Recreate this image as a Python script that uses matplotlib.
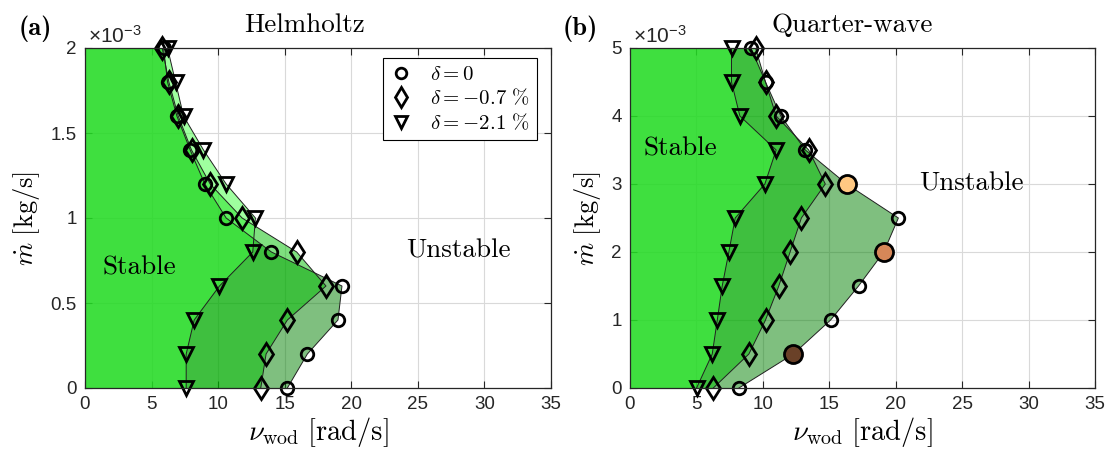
import numpy as np
import matplotlib
matplotlib.use("Agg")
import matplotlib.pyplot as plt

plt.rcParams['mathtext.fontset'] = 'cm'
plt.rcParams['font.family'] = ['Liberation Sans', 'DejaVu Sans']

# ---------------- data ----------------
# Panel (a) Helmholtz: mass flow (x1e-3 kg/s) and stability boundary nu_wod (rad/s)
mdot_a = [0.0, 0.2, 0.4, 0.6, 0.8, 1.0, 1.2, 1.4, 1.6, 1.8, 2.0]
nu_a_d0 = [15.2, 16.7, 19.0, 19.3, 14.0, 10.6, 9.0, 7.9, 6.9, 6.2, 5.9]
nu_a_d07 = [13.2, 13.6, 15.2, 18.1, 15.9, 11.8, 9.4, 8.0, 7.0, 6.3, 5.8]
nu_a_d21 = [7.6, 7.6, 8.2, 10.1, 12.6, 12.8, 10.6, 8.9, 7.4, 6.8, 6.2]

# Panel (b) Quarter-wave
mdot_b = [0.0, 0.5, 1.0, 1.5, 2.0, 2.5, 3.0, 3.5, 4.0, 4.5, 5.0]
nu_b_d0 = [8.2, 12.3, 15.1, 17.2, 19.1, 20.2, 16.3, 13.2, 11.35, 10.2, 9.1]
nu_b_d07 = [6.27, 8.95, 10.2, 11.2, 12.05, 12.9, 14.7, 13.45, 11.0, 10.2, 9.45]
nu_b_d21 = [5.01, 6.19, 6.57, 6.94, 7.44, 7.92, 10.15, 11.0, 8.27, 7.64, 7.64]

# highlighted operating points in panel (b) (indices into the delta=0 series)
highlight_idx = [6, 4, 1]
highlight_colors = ['#FFC882', '#D68758', '#6A4128']

legend_labels = [r'$\delta=0$', r'$\delta=-0.7\ \%$', r'$\delta=-2.1\ \%$']
markers = ['o', 'd', 'v']
msizes = [9, 11.5, 10]
fill_colors = [(0/255, 128/255, 0/255, 0.5),
               (0/255, 192/255, 0/255, 0.5),
               (64/255, 255/255, 64/255, 0.5)]

W, H = 1109, 458
fig = plt.figure(figsize=(W / 100, H / 100), dpi=100)

def make_axes(left_px, right_px):
    top_px, bot_px = 48, 388
    return fig.add_axes([left_px / W, (H - bot_px) / H,
                         (right_px - left_px) / W, (bot_px - top_px) / H])

ax_a = make_axes(85, 551)
ax_b = make_axes(630, 1095)

def draw_panel(ax, mdot, series, ymax, yticks, yticklabels):
    for (nu, c) in zip(series, fill_colors):
        px = np.r_[0.0, nu, 0.0]
        py = np.r_[mdot[0], mdot, mdot[-1]]
        ax.fill(px, py, facecolor=c, edgecolor='none', zorder=1)
        ax.plot(nu, mdot, color='#202020', lw=0.7, zorder=2)
    for nu, m, ms, lab in zip(series, markers, msizes, legend_labels):
        ax.plot(nu, mdot, linestyle='none', marker=m, markersize=ms,
                mfc='none', mec='k', mew=2.0, zorder=4, label=lab,
                clip_on=False)
    ax.set_xlim(0, 35)
    ax.set_ylim(0, ymax)
    ax.set_xticks(np.arange(0, 36, 5))
    ax.set_yticks(yticks)
    ax.set_yticklabels(yticklabels)
    ax.grid(True, color='#d9d9d9', lw=0.8, zorder=0)
    ax.set_axisbelow(True)
    ax.tick_params(direction='in', top=True, right=True, length=5,
                   width=0.8, labelsize=13.5, colors='#262626', pad=6)
    for s in ax.spines.values():
        s.set_color('#262626')
        s.set_linewidth(0.9)
        s.set_zorder(5)
    ax.set_xlabel(r'$\nu_\mathrm{wod}\ [\mathrm{rad/s}]$', fontsize=20.5,
                  labelpad=1)
    ax.set_ylabel(r'$\dot{m}\ [\mathrm{kg/s}]$', fontsize=19, labelpad=6)
    ax.text(0.006, 1.016, r'$\mathregular{\times10^{-3}}$', transform=ax.transAxes,
            ha='left', va='baseline', fontsize=15, color='#262626')

draw_panel(ax_a, mdot_a, [nu_a_d0, nu_a_d07, nu_a_d21], 2.0,
           [0, 0.5, 1, 1.5, 2], ['0', '0.5', '1', '1.5', '2'])
draw_panel(ax_b, mdot_b, [nu_b_d0, nu_b_d07, nu_b_d21], 5.0,
           [0, 1, 2, 3, 4, 5], ['0', '1', '2', '3', '4', '5'])

for i, col in zip(highlight_idx, highlight_colors):
    ax_b.plot(nu_b_d0[i], mdot_b[i], linestyle='none', marker='o',
              markersize=13, mfc=col, mec='k', mew=2.0, zorder=6)

leg = ax_a.legend(loc='upper right', bbox_to_anchor=(0.97, 0.972),
                  fontsize=15, frameon=True, fancybox=False,
                  edgecolor='k', framealpha=1, borderaxespad=0,
                  handlelength=1.0, handletextpad=0.9, labelspacing=0.2,
                  borderpad=0.35, markerscale=0.85)
leg.get_frame().set_linewidth(0.8)
leg.set_zorder(10)

# region labels
ax_a.text(1.35, 0.71, 'Stable', family='cmr10', fontsize=19.5, va='center', ha='left', zorder=7)
ax_a.text(24.1, 0.81, 'Unstable', family='cmr10', fontsize=19.5, va='center', ha='left', zorder=7)
ax_b.text(0.98, 3.52, 'Stable', family='cmr10', fontsize=19.5, va='center', ha='left', zorder=7)
ax_b.text(21.8, 3.01, 'Unstable', family='cmr10', fontsize=19.5, va='center', ha='left', zorder=7)

# titles and panel letters
fig.text(305 / W, (H - 32) / H, 'Helmholtz', family='cmr10', fontsize=19.5,
         ha='center', va='baseline')
fig.text(852 / W, (H - 32) / H, 'Quarter-wave', family='cmr10', fontsize=19.5,
         ha='center', va='baseline')
fig.text(19 / W, (H - 35) / H, '(a)', family='cmb10', fontsize=19,
         ha='left', va='baseline')
fig.text(563 / W, (H - 35) / H, '(b)', family='cmb10', fontsize=19,
         ha='left', va='baseline')

fig.savefig('out.png', dpi=100)
